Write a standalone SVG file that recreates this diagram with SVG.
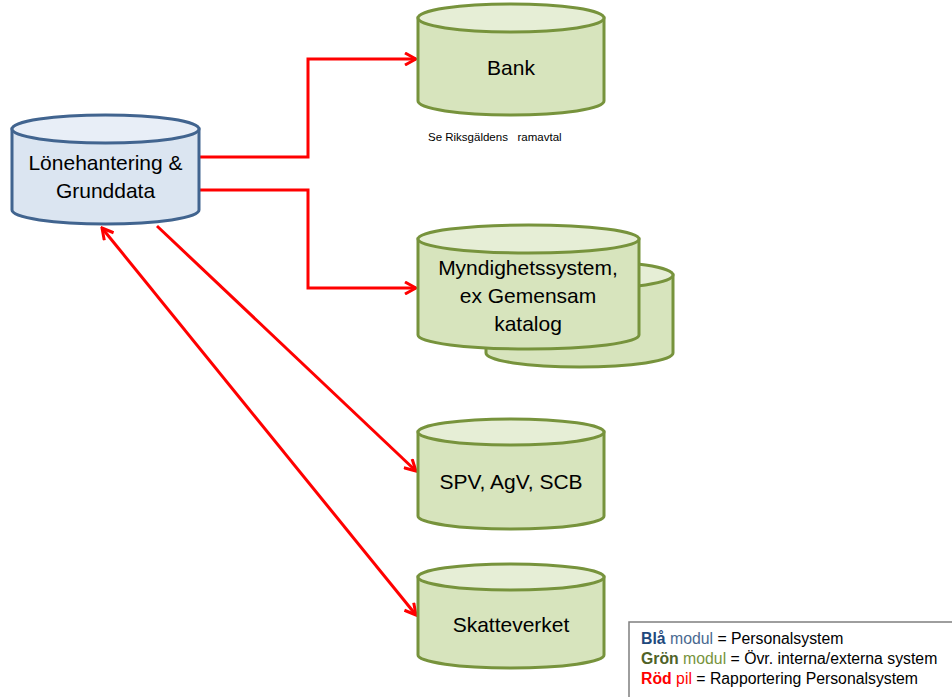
<svg xmlns="http://www.w3.org/2000/svg" width="952" height="697" viewBox="0 0 952 697">
<defs>
<style>
.blue-body{fill:#dbe5f1;stroke:#41648f;stroke-width:3}
.blue-top{fill:#e8eef7;stroke:#41648f;stroke-width:3}
.green-body{fill:#d7e4bd;stroke:#77933c;stroke-width:3}
.green-top{fill:#e6eed6;stroke:#77933c;stroke-width:3}
.lbl{font-family:"Liberation Sans",Arial,sans-serif;font-size:21px;fill:#000;text-anchor:middle}
.wire{fill:none;stroke:#ff0000;stroke-width:3}
.leg{font-family:"Liberation Sans",Arial,sans-serif;font-size:15.8px;fill:#000}
</style>
<marker id="ah" viewBox="0 0 14 14" refX="12" refY="7" markerWidth="14" markerHeight="14" markerUnits="userSpaceOnUse" orient="auto-start-reverse">
<path d="M1,1 L12,7 L1,13" fill="none" stroke="#ff0000" stroke-width="3"/>
</marker>
</defs>
<rect width="952" height="697" fill="#fff"/>

<g id="connectors">
<polyline class="wire" points="199,157 308,157 308,59 416,59" marker-end="url(#ah)"/>
<polyline class="wire" points="199,190 308,190 308,288 416,288" marker-end="url(#ah)"/>
<line class="wire" x1="157" y1="226" x2="416" y2="471" marker-end="url(#ah)"/>
<line class="wire" x1="102" y1="228" x2="416" y2="615" marker-start="url(#ah)" marker-end="url(#ah)"/>
</g>

<g id="lonehantering">
<path class="blue-body" d="M12,129 L12,210 A93.5,14 0 0 0 199,210 L199,129 Z"/>
<ellipse class="blue-top" cx="105.5" cy="129" rx="93.5" ry="14"/>
<text class="lbl" x="105.5" y="170">Lönehantering &amp;</text>
<text class="lbl" x="105.5" y="198">Grunddata</text>
</g>

<g id="bank">
<path class="green-body" d="M418,18 L418,101 A93,14 0 0 0 604,101 L604,18 Z"/>
<ellipse class="green-top" cx="511" cy="18" rx="93" ry="14"/>
<text class="lbl" x="511" y="75">Bank</text>
</g>

<text x="428" y="141" style="white-space:pre" font-family="'Liberation Sans',Arial,sans-serif" font-size="11.5" fill="#000">Se Riksgäldens   ramavtal</text>

<g id="myndighetssystem">
<path class="green-body" d="M486,275 L486,353 A93.5,14 0 0 0 673,353 L673,275 Z"/>
<ellipse class="green-top" cx="579.5" cy="275" rx="93.5" ry="14"/>
<path class="green-body" d="M418,239 L418,335 A110.5,14 0 0 0 639,335 L639,239 Z"/>
<ellipse class="green-top" cx="528.5" cy="239" rx="110.5" ry="14"/>
<text class="lbl" x="528" y="275">Myndighetssystem,</text>
<text class="lbl" x="528" y="303">ex Gemensam</text>
<text class="lbl" x="528" y="331">katalog</text>
</g>

<g id="spv">
<path class="green-body" d="M418,432 L418,516 A93,13 0 0 0 604,516 L604,432 Z"/>
<ellipse class="green-top" cx="511" cy="432" rx="93" ry="13"/>
<text class="lbl" x="511" y="489">SPV, AgV, SCB</text>
</g>

<g id="skatteverket">
<path class="green-body" d="M418,577 L418,655 A93,13 0 0 0 604,655 L604,577 Z"/>
<ellipse class="green-top" cx="511" cy="577" rx="93" ry="13"/>
<text class="lbl" x="511" y="632">Skatteverket</text>
</g>

<g id="legend">
<rect x="629" y="622" width="330" height="82" fill="#fff" stroke="#7f7f7f" stroke-width="1.5"/>
<text class="leg" x="641" y="644"><tspan font-weight="bold" fill="#1f497d">Blå</tspan><tspan fill="#4a6990"> modul</tspan> = Personalsystem</text>
<text class="leg" x="641" y="664"><tspan font-weight="bold" fill="#4f6228">Grön</tspan><tspan fill="#77933c"> modul</tspan> = Övr. interna/externa system</text>
<text class="leg" x="641" y="684"><tspan font-weight="bold" fill="#ff0000">Röd</tspan><tspan fill="#ff0000"> pil</tspan> = Rapportering Personalsystem</text>
</g>
</svg>
